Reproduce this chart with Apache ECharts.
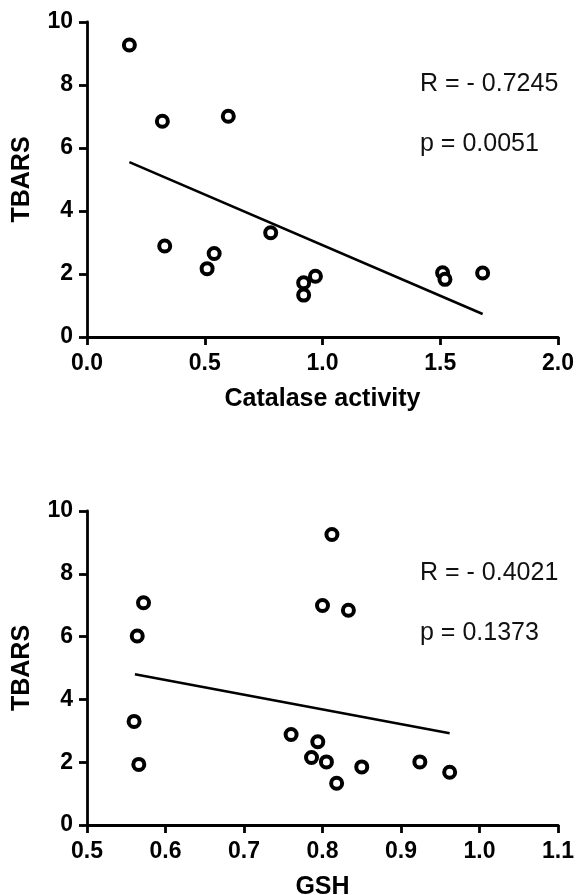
<!DOCTYPE html>
<html>
<head>
<meta charset="utf-8">
<script src="https://cdn.jsdelivr.net/npm/echarts@6/dist/echarts.min.js"></script>
<style>
  html, body { margin: 0; padding: 0; background: #fff; }
  #main { width: 576px; height: 895px; }
</style>
</head>
<body>
<div id="main"></div>
<script>
// top panel: catalase activity vs TBARS
var catalaseX = [0.18, 0.32, 0.60, 0.33, 0.54, 0.51, 0.78, 0.92, 0.92, 0.97, 1.51, 1.52, 1.68];
var catalaseY = [9.27, 6.85, 7.01, 2.89, 2.65, 2.17, 3.31, 1.72, 1.33, 1.93, 2.04, 1.83, 2.03];
var catalaseFitX = [0.18, 1.68];
var catalaseFitY = [5.55, 0.73];

// bottom panel: GSH vs TBARS
var gshX = [0.812, 0.800, 0.833, 0.572, 0.564, 0.560, 0.566, 0.760, 0.794, 0.786, 0.805, 0.818, 0.850, 0.924, 0.962];
var gshY = [9.25, 6.99, 6.84, 7.08, 6.02, 3.30, 1.93, 2.88, 2.65, 2.15, 2.01, 1.33, 1.85, 2.01, 1.68];
var gshFitX = [0.561, 0.962];
var gshFitY = [4.80, 2.92];

var statsTop = ['R = - 0.7245', 'p = 0.0051'];
var statsBottom = ['R = - 0.4021', 'p = 0.1373'];

function pairs(xs, ys) {
  var out = [];
  for (var i = 0; i < xs.length; i++) out.push([xs[i], ys[i]]);
  return out;
}

var font = 'Liberation Sans, Arial, sans-serif';

function xAxisFor(idx, min, max, interval, name) {
  return {
    type: 'value', gridIndex: idx, min: min, max: max, interval: interval,
    name: name, nameLocation: 'middle', nameGap: 50,
    nameTextStyle: { color: '#000', fontFamily: font, fontWeight: 'bold', fontSize: 25 },
    axisLine: { show: true, lineStyle: { color: '#000', width: 2.8 } },
    axisTick: { show: true, length: 8, lineStyle: { color: '#000', width: 2.8 } },
    axisLabel: {
      color: '#000', fontFamily: font, fontWeight: 'bold', fontSize: 23, margin: 15,
      formatter: function (v) { return v.toFixed(1); }
    },
    splitLine: { show: false }
  };
}

function yAxisFor(idx) {
  return {
    type: 'value', gridIndex: idx, min: 0, max: 10, interval: 2,
    name: 'TBARS', nameLocation: 'middle', nameGap: 52,
    nameTextStyle: { color: '#000', fontFamily: font, fontWeight: 'bold', fontSize: 25 },
    axisLine: { show: true, lineStyle: { color: '#000', width: 2.8 } },
    axisTick: { show: true, length: 8, lineStyle: { color: '#000', width: 2.8 } },
    axisLabel: { color: '#000', fontFamily: font, fontWeight: 'bold', fontSize: 23, margin: 14 },
    splitLine: { show: false }
  };
}

function dots(idx, xs, ys) {
  return {
    type: 'scatter', xAxisIndex: idx, yAxisIndex: idx,
    data: pairs(xs, ys), symbol: 'circle', symbolSize: 11,
    itemStyle: { color: '#fff', borderColor: '#000', borderWidth: 4, opacity: 1 },
    z: 3
  };
}

function fit(idx, xs, ys) {
  return {
    type: 'line', xAxisIndex: idx, yAxisIndex: idx,
    data: pairs(xs, ys), symbol: 'none',
    lineStyle: { color: '#000', width: 2.6 },
    z: 2
  };
}

function statText(lines, top) {
  return lines.map(function (t, i) {
    return {
      type: 'text', left: 420, top: top + i * 60,
      style: { text: t, fill: '#111', font: '25px ' + font }
    };
  });
}

var myChart = echarts.init(document.getElementById('main'), null, { renderer: 'canvas' });

var option = {
  backgroundColor: '#fff',
  animation: false,
  grid: [
    { left: 87, top: 22, width: 471, height: 315, outerBoundsMode: 'none' },
    { left: 87, top: 511, width: 471, height: 314, outerBoundsMode: 'none' }
  ],
  xAxis: [
    xAxisFor(0, 0, 2, 0.5, 'Catalase activity'),
    xAxisFor(1, 0.5, 1.1, 0.1, 'GSH')
  ],
  yAxis: [yAxisFor(0), yAxisFor(1)],
  series: [
    fit(0, catalaseFitX, catalaseFitY),
    dots(0, catalaseX, catalaseY),
    fit(1, gshFitX, gshFitY),
    dots(1, gshX, gshY)
  ],
  graphic: statText(statsTop, 72).concat(statText(statsBottom, 561))
};

myChart.setOption(option);
</script>
</body>
</html>
